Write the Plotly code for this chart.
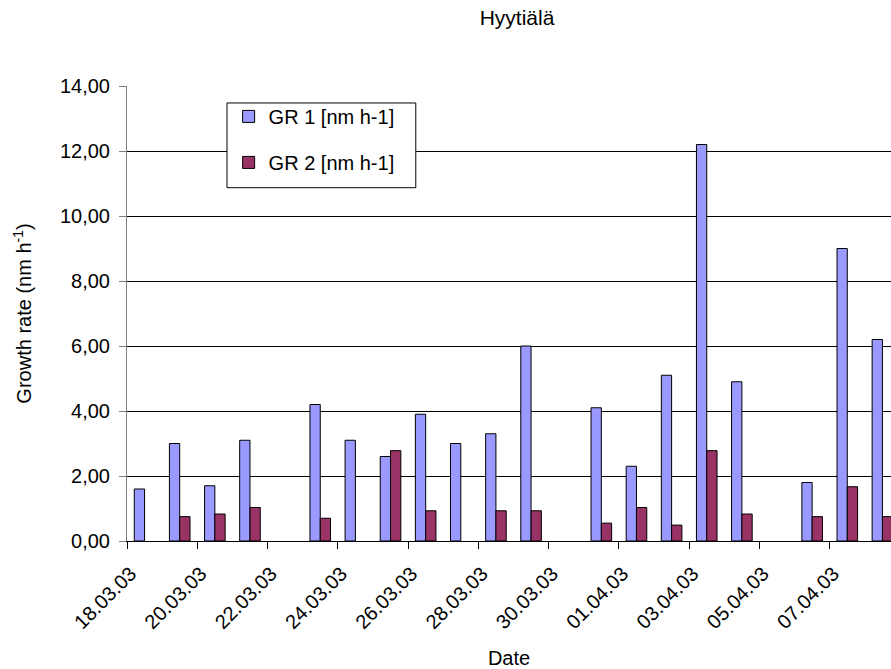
import plotly.graph_objects as go

# ---- data ----
dates = ["18.03.03", "19.03.03", "20.03.03", "21.03.03", "22.03.03", "23.03.03",
         "24.03.03", "25.03.03", "26.03.03", "27.03.03", "28.03.03", "29.03.03",
         "30.03.03", "31.03.03", "01.04.03", "02.04.03", "03.04.03", "04.04.03",
         "05.04.03", "06.04.03", "07.04.03", "08.04.03"]
gr1 = [1.60, 3.00, 1.70, 3.10, None, 4.20, 3.10, 2.60, 3.90, 3.00, 3.30, 6.00,
       None, 4.10, 2.30, 5.10, 12.20, 4.90, None, 1.80, 9.00, 6.20]
gr2 = [None, 0.75, 0.83, 1.03, None, 0.70, None, 2.78, 0.93, None, 0.93, 0.93,
       None, 0.55, 1.03, 0.49, 2.78, 0.83, None, 0.75, 1.67, 0.75]
series_names = ["GR 1 [nm h-1]", "GR 2 [nm h-1]"]
title_text = "Hyytiälä"
y_title = "Growth rate (nm h<sup>-1</sup>)"
x_title = "Date"

FONT = "Liberation Sans, Arial, sans-serif"

x_idx = list(range(len(dates)))
label_idx = x_idx[::2]
label_txt = [dates[i] for i in label_idx]
boundary_vals = [i - 0.5 for i in label_idx]

fig = go.Figure()
fig.add_trace(go.Bar(x=x_idx, y=gr1, name=series_names[0], legendgroup="a",
                     marker=dict(color="#9999FF", line=dict(color="#000000", width=1))))
fig.add_trace(go.Bar(x=x_idx, y=gr2, name=series_names[1], legendgroup="b",
                     marker=dict(color="#993366", line=dict(color="#000000", width=1))))

fig.update_layout(
    width=891, height=669,
    margin=dict(l=127, r=0, t=86, b=128),
    paper_bgcolor="white", plot_bgcolor="white",
    font=dict(family=FONT, size=20, color="black"),
    separators=",.",
    barmode="group", bargap=0.414, bargroupgap=0,
    title=dict(text=title_text, x=517 / 891, xref="container", xanchor="center",
               y=1 - 18 / 669, yref="container", yanchor="middle",
               font=dict(size=21, family=FONT, color="black")),
    showlegend=True,
    legend=dict(x=0.133, y=0.976, xanchor="left", yanchor="top",
                bgcolor="rgba(0,0,0,0)", borderwidth=0,
                traceorder="grouped", tracegroupgap=17,
                font=dict(size=20, family=FONT, color="black")),
    shapes=[dict(type="rect", xref="paper", yref="paper",
                 x0=0.1309, x1=0.378, y0=0.7765, y1=0.9627,
                 line=dict(color="black", width=1), fillcolor="white", layer="above")],
)

fig.update_xaxes(
    range=[-0.5, 21.244], tickmode="array", tickvals=label_idx, ticktext=label_txt,
    tickangle=-45, ticks="", showgrid=False, showline=True, linecolor="black", linewidth=1,
    tickfont=dict(size=20, family=FONT, color="black"),
    ticklabelstandoff=12, ticklabelshift=-14,
    minor=dict(tickmode="array", tickvals=boundary_vals, ticks="outside", ticklen=7,
               tickcolor="black", tickwidth=1, showgrid=False),
    title=dict(text=x_title, standoff=21, font=dict(size=20, family=FONT, color="black")),
    zeroline=False,
)
fig.update_yaxes(
    range=[0, 14], dtick=2, tickformat=".2f", showgrid=True, gridcolor="black", gridwidth=1,
    showline=True, linecolor="#808080", linewidth=1, ticks="outside", ticklen=7,
    tickcolor="#808080", zeroline=False, ticklabelstandoff=5,
    tickfont=dict(size=20, family=FONT, color="black"),
    title=dict(text=y_title, standoff=22, font=dict(size=20, family=FONT, color="black")),
)

fig.write_html("out.html", config={"displayModeBar": False},
               post_script="document.body.style.margin='0';document.body.style.overflow='hidden';")
